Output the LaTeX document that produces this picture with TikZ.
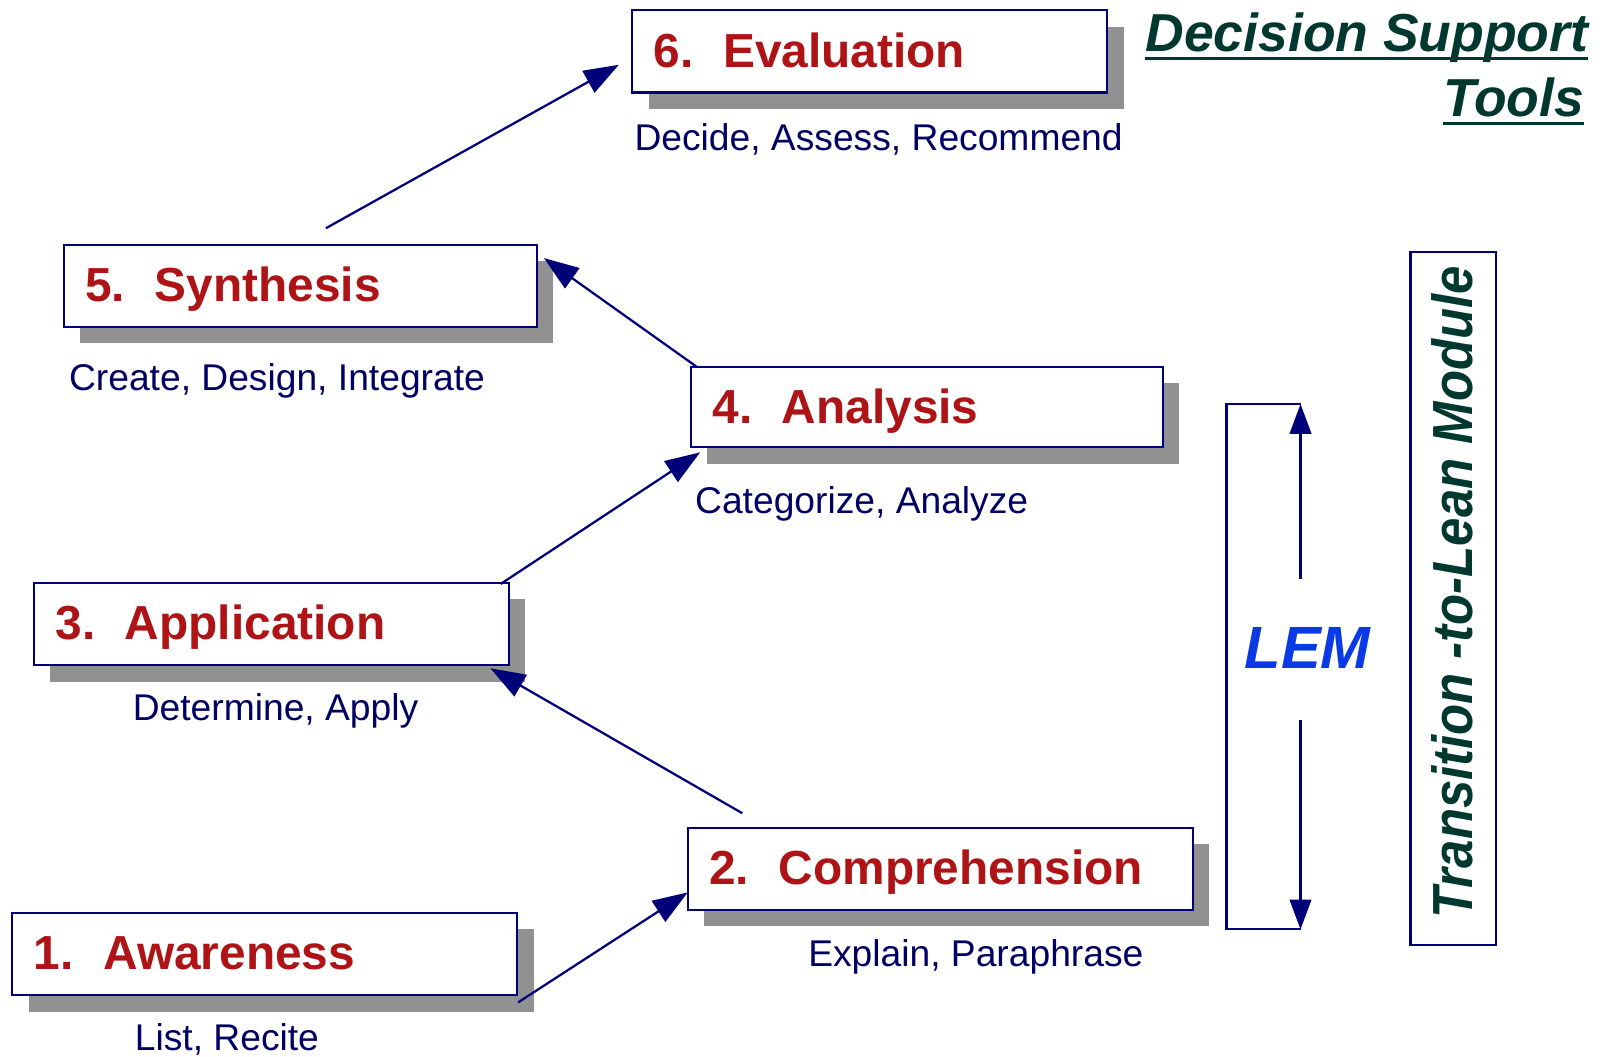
\documentclass[tikz,border=0pt]{standalone}
\usepackage{fontspec}
\setmainfont{Liberation Sans}
\usetikzlibrary{arrows.meta,shadows}
\definecolor{navyline}{RGB}{0,0,120}
\definecolor{navytext}{RGB}{0,0,100}
\definecolor{stagered}{RGB}{174,20,22}
\definecolor{dgreen}{RGB}{0,56,48}
\definecolor{lemblue}{RGB}{10,58,230}
\definecolor{shadowgray}{RGB}{145,145,145}
\begin{document}
\begin{tikzpicture}[x=1pt,y=-1pt,
  stage/.style={draw=navyline, line width=2pt, fill=white, minimum height=80pt,
    align=left, inner xsep=21pt, inner ysep=0pt, text=stagered,
    font=\fontsize{46.5}{54}\selectfont\bfseries, text height=31pt, text depth=0pt,
    drop shadow={shadow xshift=16pt, shadow yshift=-16pt, fill=shadowgray, opacity=1}},
  sub/.style={text=navytext, font=\fontsize{36.2}{43}\selectfont, inner sep=0pt, anchor=base west},
  conn/.style={draw=navyline, line width=2.2pt, -{Triangle[length=34pt,width=24pt]}},
  lemarrow/.style={draw=navyline, line width=2.2pt, -{Triangle[length=29pt,width=21pt]}},
  bracket/.style={draw=navyline, line width=2pt},
  dst/.style={text=dgreen, font=\fontsize{52}{60}\selectfont\bfseries\itshape, inner sep=0pt, anchor=base east},
  uline/.style={draw=dgreen, line width=3pt}
]
\path[fill=white, use as bounding box] (0,0) rectangle (1568,1028);

% stages
\node[stage, text width=420pt] (b6) at (846,50) {6.\hspace{0.62em}Evaluation};
\node[stage, text width=418pt] (b5) at (292,278) {5.\hspace{0.62em}Synthesis};
\node[stage, text width=417pt, minimum height=78pt] (b4) at (901.5,396) {4.\hspace{0.62em}Analysis};
\node[stage, text width=420pt] (b3) at (264,607) {3.\hspace{0.62em}Application};
\node[stage, text width=449pt] (b2) at (914.5,845) {2.\hspace{0.62em}Comprehension};
\node[stage, text width=449pt] (b1) at (257.5,928) {1.\hspace{0.62em}Awareness};

% subtitles
\node[sub] (s6) at (617,146) {Decide, Assess, Recommend};
\node[sub] (s5) at (67,380) {Create, Design, Integrate};
\node[sub] (s4) at (676,499) {Categorize, Analyze};
\node[sub] (s3) at (129,701) {Determine, Apply};
\node[sub] (s2) at (786,940) {Explain, Paraphrase};
\node[sub] (s1) at (131,1022) {List, Recite};

% connectors
\coordinate (a12) at (504,975); \coordinate (t12) at (669,868);
\coordinate (a23) at (722,791); \coordinate (t23) at (477,650);
\coordinate (a34) at (487,568); \coordinate (t34) at (681,440);
\coordinate (a45) at (678,357); \coordinate (t45) at (529,251);
\coordinate (a56) at (317,222); \coordinate (t56) at (602,63);
\draw[conn] (a12) -- (t12);
\draw[conn] (a23) -- (t23);
\draw[conn] (a34) -- (t34);
\draw[conn] (a45) -- (t45);
\draw[conn] (a56) -- (t56);

% title
\node[dst] (d1) at (1545,50) {Decision Support};
\node[dst] (d2) at (1541,113) {Tools};
\draw[uline] ([yshift=-7pt]d1.base west) -- ([yshift=-7pt]d1.base east);
\draw[uline] ([yshift=-7pt]d2.base west) -- ([yshift=-7pt]d2.base east);

% LEM bracket
\coordinate (lt) at (1193,393); \coordinate (lb) at (1193,904);
\coordinate (rt) at (1265,393); \coordinate (rb) at (1265,904);
\coordinate (u0) at (1265,563); \coordinate (d0) at (1265,700);
\draw[bracket] (rt) -- (lt) -- (lb) -- (rb);
\draw[lemarrow] (u0) -- (rt);
\draw[lemarrow] (d0) -- (rb);
\node[text=lemblue, font=\fontsize{58}{64}\selectfont\bfseries\itshape, inner sep=0pt, anchor=base] (lem) at (1272,650) {LEM};

% Transition-to-Lean Module
\node[draw=navyline, line width=2pt, minimum width=83pt, minimum height=674pt, inner sep=0pt] (tlm) at (1413.5,582) {};
\node[text=dgreen, font=\fontsize{55}{60}\selectfont\bfseries\itshape, inner sep=0pt, anchor=base, rotate=90] (tlmtext) at (1432,576) {\scalebox{0.9}[1]{Transition -to-Lean Module}};
\end{tikzpicture}
\end{document}
